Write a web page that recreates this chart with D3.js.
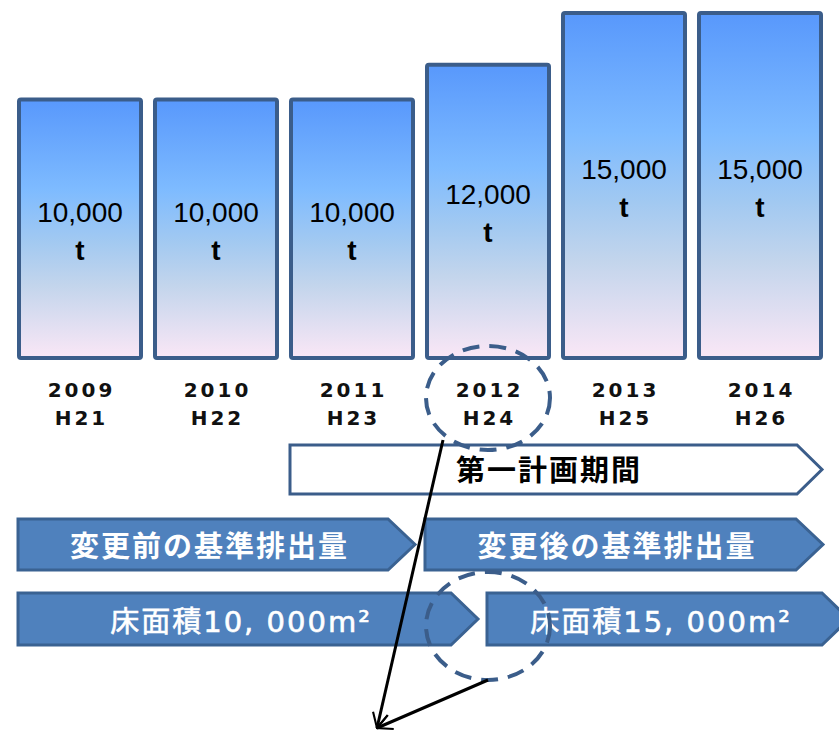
<!DOCTYPE html>
<html>
<head>
<meta charset="utf-8">
<script src="https://cdn.jsdelivr.net/npm/d3@7"></script>
<style>
  body { margin: 0; background: #fff; }
  svg { display: block; }
</style>
</head>
<body>
<svg id="chart"></svg>
<script>
const width = 839;
const height = 730;
const baseY = 360;

// data
const years = ['2009', '2010', '2011', '2012', '2013', '2014'];
const eras = ['H21', 'H22', 'H23', 'H24', 'H25', 'H26'];
const amounts = [10000, 10000, 10000, 12000, 15000, 15000];
const amountLabels = ['10,000', '10,000', '10,000', '12,000', '15,000', '15,000'];
const periodLabel = '第一計画期間';
const baseLabels = ['変更前の基準排出量', '変更後の基準排出量'];
const areaLabels = ['床面積10, 000m²', '床面積15, 000m²'];

const svg = d3.select('#chart')
  .attr('width', width)
  .attr('height', height);

const xScale = d3.scaleBand()
  .domain(years)
  .range([17, 823])
  .paddingInner(0.0735)
  .paddingOuter(0);

// bars do not start from zero in the original drawing
const yScale = d3.scaleLinear()
  .domain([-5200, 15000])
  .range([baseY, 11]);

const defs = svg.append('defs');
const grad = defs.append('linearGradient')
  .attr('id', 'barFill')
  .attr('x1', 0).attr('y1', 0).attr('x2', 0).attr('y2', 1);
[[0, '#5898fc'], [0.35, '#7ebbff'], [0.55, '#a2c9f1'], [0.72, '#c3d5ec'], [1, '#fae7f6']]
  .forEach(s => grad.append('stop').attr('offset', s[0]).attr('stop-color', s[1]));

defs.append('marker')
  .attr('id', 'head')
  .attr('viewBox', '0 0 12 12')
  .attr('refX', 11).attr('refY', 6)
  .attr('markerWidth', 6).attr('markerHeight', 6)
  .attr('markerUnits', 'strokeWidth')
  .attr('orient', 'auto')
  .append('path')
  .attr('d', 'M1,1 L11,6 L1,11')
  .attr('fill', 'none')
  .attr('stroke', '#000')
  .attr('stroke-width', 1.4);

const bars = svg.append('g');
bars.selectAll('rect')
  .data(amounts)
  .enter()
  .append('rect')
  .attr('x', (d, i) => xScale(years[i]) + 2)
  .attr('y', d => yScale(d) + 2)
  .attr('width', xScale.bandwidth() - 4)
  .attr('height', d => baseY - yScale(d) - 4)
  .attr('rx', 2)
  .attr('fill', 'url(#barFill)')
  .attr('stroke', '#3b5d8a')
  .attr('stroke-width', 4);

const barText = bars.selectAll('text')
  .data(amounts)
  .enter()
  .append('text')
  .attr('x', (d, i) => xScale(years[i]) + xScale.bandwidth() / 2)
  .attr('y', d => (yScale(d) + baseY) / 2 - 7)
  .attr('text-anchor', 'middle')
  .style('font-family', '"Liberation Sans", Arial, sans-serif')
  .style('font-size', '28px')
  .attr('fill', '#000');
barText.append('tspan').text((d, i) => amountLabels[i]);
barText.append('tspan')
  .attr('x', (d, i) => xScale(years[i]) + xScale.bandwidth() / 2)
  .attr('dy', 38)
  .style('font-weight', 'bold')
  .text('t');

// year labels
const yearLabels = svg.append('g');
years.forEach((y, i) => {
  const cx = xScale(y) + xScale.bandwidth() / 2;
  const t = yearLabels.append('text')
    .attr('text-anchor', 'middle')
    .style('font-family', '"DejaVu Sans", sans-serif')
    .style('font-size', '20px')
    .style('font-weight', 'bold')
    .style('letter-spacing', '3px')
    .attr('fill', '#111');
  t.append('tspan').attr('x', cx + 1.5).attr('y', 397).text(y);
  t.append('tspan').attr('x', cx + 1.5).attr('y', 425).text(eras[i]);
});

function arrowPath(x0, x1, top, bottom, depth) {
  const mid = (top + bottom) / 2;
  return `M${x0},${top} L${x1 - depth},${top} L${x1},${mid} L${x1 - depth},${bottom} L${x0},${bottom} Z`;
}

const jp = '"Noto Sans CJK JP", "Noto Sans", sans-serif';

// period arrow
svg.append('path')
  .attr('d', arrowPath(xScale('2011') + 1, xScale('2014') + xScale.bandwidth() - 1, 445, 494, 25))
  .attr('fill', '#fff')
  .attr('stroke', '#3b5d8a')
  .attr('stroke-width', 3);
svg.append('text')
  .attr('x', 549).attr('y', 481)
  .attr('text-anchor', 'middle')
  .style('font-family', jp)
  .style('font-size', '29px')
  .style('font-weight', 'bold')
  .style('letter-spacing', '2px')
  .attr('fill', '#000')
  .text(periodLabel);

// base emission arrows
const baseSegments = [
  {x0: xScale('2009'), x1: xScale('2011') + xScale.bandwidth(), label: baseLabels[0]},
  {x0: xScale('2012') - 1, x1: xScale('2014') + xScale.bandwidth(), label: baseLabels[1]}
];
const areaSplit = xScale('2012') + xScale.bandwidth() / 2;
const areaSegments = [
  {x0: xScale('2009'), x1: areaSplit - 10, label: areaLabels[0]},
  {x0: areaSplit - 2, x1: width + 10, label: areaLabels[1]}
];

function drawRow(segs, top, bottom, font, weight, size, spacing, textY, halo) {
  const g = svg.append('g');
  g.selectAll('path')
    .data(segs)
    .enter()
    .append('path')
    .attr('d', d => arrowPath(d.x0 + 1, d.x1, top, bottom, 27))
    .attr('fill', '#4f81bd')
    .attr('stroke', '#3a6292')
    .attr('stroke-width', 3);
  g.selectAll('text')
    .data(segs)
    .enter()
    .append('text')
    .attr('x', d => (d.x0 + d.x1 - 27) / 2 + 6 + spacing / 2)
    .attr('y', textY)
    .attr('text-anchor', 'middle')
    .style('font-family', font)
    .style('font-size', size + 'px')
    .style('font-weight', weight)
    .style('letter-spacing', spacing + 'px')
    .attr('fill', '#fff')
    .attr('stroke', halo ? '#fff' : 'none')
    .attr('stroke-width', halo)
    .text(d => d.label);
}
drawRow(baseSegments, 519, 570, jp, 'bold', 29, 2, 557, 0);
drawRow(areaSegments, 593, 645, '"DejaVu Sans", ' + jp, 'normal', 29, 2, 632, 0.6);

// dashed highlight circles
const circles = [
  {cx: xScale('2012') + xScale.bandwidth() / 2, cy: 398, rx: 62, ry: 52},
  {cx: xScale('2012') + xScale.bandwidth() / 2, cy: 626, rx: 62, ry: 54}
];
svg.selectAll('ellipse')
  .data(circles)
  .enter()
  .append('ellipse')
  .attr('cx', d => d.cx).attr('cy', d => d.cy)
  .attr('rx', d => d.rx).attr('ry', d => d.ry)
  .attr('fill', 'none')
  .attr('stroke', '#3b5d8a')
  .attr('stroke-width', 4)
  .attr('stroke-dasharray', '17 10');

// pointer lines
const pointers = [
  {x1: 443, y1: 440, x2: 377, y2: 728},
  {x1: 488, y1: 680, x2: 377, y2: 728}
];
svg.selectAll('line.pointer')
  .data(pointers)
  .enter()
  .append('line')
  .attr('class', 'pointer')
  .attr('x1', d => d.x1).attr('y1', d => d.y1)
  .attr('x2', d => d.x2).attr('y2', d => d.y2)
  .attr('stroke', '#000')
  .attr('stroke-width', 3)
  .attr('marker-end', 'url(#head)');
</script>
</body>
</html>
